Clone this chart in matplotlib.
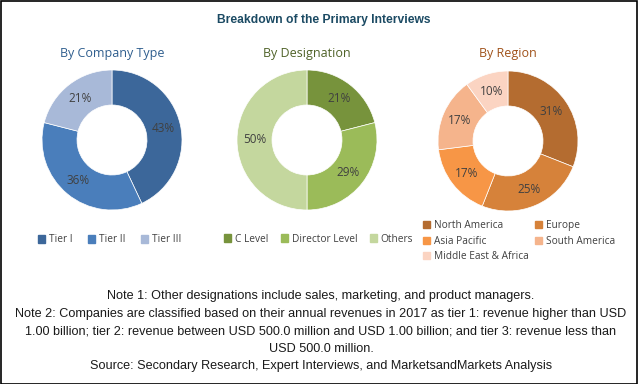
import matplotlib.pyplot as plt
from matplotlib.patches import Patch, Rectangle
from matplotlib import font_manager

# data
company_labels = ['Tier I', 'Tier II', 'Tier III']
company_values = [43, 36, 21]
designation_labels = ['C Level', 'Director Level', 'Others']
designation_values = [21, 29, 50]
region_labels = ['North America', 'Europe', 'Asia Pacific', 'South America', 'Middle East & Africa']
region_values = [31, 25, 17, 17, 10]

company_colors = ['#3C679A', '#4A7EBB', '#A8B9D8']
designation_colors = ['#77933C', '#9BBB59', '#C4D79E']
region_colors = ['#B46C30', '#D6823A', '#F79646', '#F5B48C', '#FBD4C2']

names = {f.name for f in font_manager.fontManager.ttflist}
narrow = 'Liberation Sans Narrow' if 'Liberation Sans Narrow' in names else 'Liberation Sans'
body = 'Open Sans'

W, H = 638, 384
fig = plt.figure(figsize=(W / 100, H / 100), dpi=100)
fig.patches.append(Rectangle((0.5 / W, 0.5 / H), 1 - 1.5 / W, 1 - 1.5 / H, transform=fig.transFigure,
                             fill=False, edgecolor='black', linewidth=1.2))

fig.text(324 / W, 1 - 20 / H, 'Breakdown of the Primary Interviews', ha='center', va='center',
         fontsize=8.7, fontweight='bold', color='#1B4A63', family=narrow)


def donut(cx, cy, values, colors, title, title_color):
    r = 70
    ax = fig.add_axes([(cx - r) / W, (H - cy - r) / H, 2 * r / W, 2 * r / H])
    ax.pie(values, colors=colors, startangle=90, counterclock=False,
           radius=1, autopct='%d%%', pctdistance=0.75,
           wedgeprops=dict(width=0.5, edgecolor='white', linewidth=0.5),
           textprops=dict(fontsize=8.5, color='#404040', family=body))
    ax.set_xlim(-1, 1)
    ax.set_ylim(-1, 1)
    ax.axis('off')
    fig.text(cx / W, 1 - 53 / H, title, ha='center', va='center', fontsize=9,
             color=title_color, family=body)
    return ax


donut(112, 140, company_values, company_colors, 'By Company Type', '#2F5E8E')
donut(307, 140, designation_values, designation_colors, 'By Designation', '#4F6228')
donut(508, 141, region_values, region_colors, 'By Region', '#A0521A')

legend_kw = dict(frameon=False, handlelength=0.7, handleheight=0.7, handletextpad=0.4,
                 prop={'family': body, 'size': 7.3}, labelcolor='#404040', borderaxespad=0)

h1 = [Patch(color=c) for c in company_colors]
fig.legend(h1, company_labels, loc='center left', bbox_to_anchor=(34 / W, 1 - 240 / H),
           ncol=3, columnspacing=1.5, **legend_kw)
h2 = [Patch(color=c) for c in designation_colors]
fig.legend(h2, designation_labels, loc='center left', bbox_to_anchor=(220 / W, 1 - 239 / H),
           ncol=3, columnspacing=1.2, **legend_kw)

# legend fills column by column, so reorder to read row by row
order = [0, 2, 4, 1, 3]
h3 = [Patch(color=region_colors[i]) for i in order]
fig.legend(h3, [region_labels[i] for i in order], loc='upper left',
           bbox_to_anchor=(419 / W, 1 - 216 / H),
           ncol=2, columnspacing=0.6, labelspacing=0.45, **legend_kw)

notes = [
    'Note 1: Other designations include sales, marketing, and product managers.',
    'Note 2: Companies are classified based on their annual revenues in 2017 as tier 1: revenue higher than USD',
    '1.00 billion; tier 2: revenue between USD 500.0 million and USD 1.00 billion; and tier 3: revenue less than',
    'USD 500.0 million.',
    'Source: Secondary Research, Expert Interviews, and MarketsandMarkets Analysis',
]
for i, line in enumerate(notes):
    fig.text(321 / W, 1 - (296 + i * 17.6) / H, line, ha='center', va='center', fontsize=9.1,
             color='#1a1a1a', family=narrow)

fig.savefig('out.png', dpi=100)
